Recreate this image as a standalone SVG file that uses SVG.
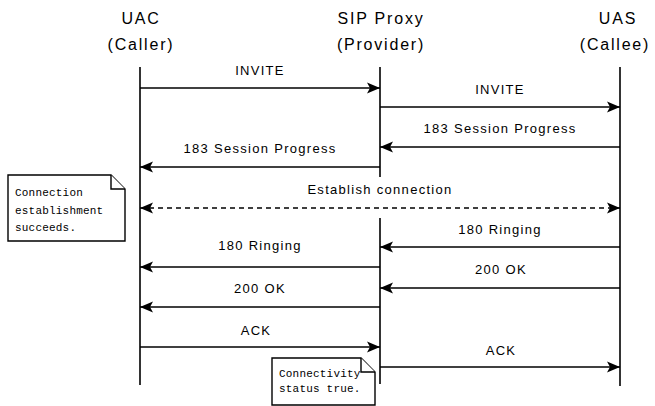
<svg xmlns="http://www.w3.org/2000/svg" width="655" height="406" viewBox="0 0 655 406">
  <style>
    .hdr { font-family: "Liberation Sans", Arial, sans-serif; font-size: 16px; letter-spacing: 1.8px; fill: #000; text-anchor: middle; }
    .lbl { font-family: "Liberation Sans", Arial, sans-serif; font-size: 13px; letter-spacing: 1.3px; fill: #000; text-anchor: middle; }
    .note-txt { font-family: "Liberation Mono", "Courier New", monospace; font-size: 11px; letter-spacing: 0.2px; fill: #000; }
    .life { stroke: #000; stroke-width: 1.6; fill: none; }
    .msg { stroke: #000; stroke-width: 1.6; fill: none; marker-end: url(#arrow); }
    .dash { stroke-dasharray: 5 4; marker-start: url(#arrow); }
    .note { fill: #fff; stroke: #000; stroke-width: 1.4; }
  </style>
  <defs>
    <marker id="arrow" markerUnits="userSpaceOnUse" viewBox="-14 -7 15 14" refX="0" refY="0" markerWidth="15" markerHeight="14" orient="auto-start-reverse">
      <path d="M0,0 L-13,-5.5 L-10,0 L-13,5.5 Z" fill="#000"/>
    </marker>
  </defs>
  <rect width="655" height="406" fill="#fff"/>

  <!-- participants -->
  <g id="uac">
    <text class="hdr" x="141" y="24">UAC</text>
    <text class="hdr" x="141" y="50">(Caller)</text>
    <line class="life" x1="140" y1="67" x2="140" y2="385"/>
  </g>
  <g id="proxy">
    <text class="hdr" x="381" y="24">SIP Proxy</text>
    <text class="hdr" x="381" y="50">(Provider)</text>
    <line class="life" x1="380" y1="67" x2="380" y2="177"/>
    <line class="life" x1="380" y1="218" x2="380" y2="384"/>
  </g>
  <g id="uas">
    <text class="hdr" x="618" y="24">UAS</text>
    <text class="hdr" x="615" y="50">(Callee)</text>
    <line class="life" x1="620" y1="67" x2="620" y2="386"/>
  </g>

  <!-- messages -->
  <g id="connectors">
    <line class="msg" x1="140" y1="88" x2="380" y2="88"/>
    <line class="msg" x1="380" y1="107" x2="620" y2="107"/>
    <line class="msg" x1="620" y1="147" x2="380" y2="147"/>
    <line class="msg" x1="380" y1="167" x2="140" y2="167"/>
    <line class="msg dash" x1="140" y1="208" x2="620" y2="208"/>
    <line class="msg" x1="620" y1="247" x2="380" y2="247"/>
    <line class="msg" x1="380" y1="267" x2="140" y2="267"/>
    <line class="msg" x1="620" y1="288" x2="380" y2="288"/>
    <line class="msg" x1="380" y1="307" x2="140" y2="307"/>
    <line class="msg" x1="140" y1="347" x2="380" y2="347"/>
    <line class="msg" x1="380" y1="367" x2="620" y2="367"/>
  </g>

  <g id="labels">
    <text class="lbl" x="260" y="75">INVITE</text>
    <text class="lbl" x="500" y="94">INVITE</text>
    <text class="lbl" x="500" y="133">183 Session Progress</text>
    <text class="lbl" x="260" y="153">183 Session Progress</text>
    <text class="lbl" x="380" y="194">Establish connection</text>
    <text class="lbl" x="500" y="234">180 Ringing</text>
    <text class="lbl" x="260" y="250">180 Ringing</text>
    <text class="lbl" x="501" y="274">200 OK</text>
    <text class="lbl" x="260" y="293">200 OK</text>
    <text class="lbl" x="256" y="335">ACK</text>
    <text class="lbl" x="501" y="355">ACK</text>
  </g>

  <!-- notes -->
  <g id="note-connection">
    <path class="note" d="M8,175 H111 L125,189 V241 H8 Z"/>
    <path class="note" d="M111,175 V189 H125" fill="none"/>
    <text class="note-txt" x="15" y="196">Connection</text>
    <text class="note-txt" x="15" y="214">establishment</text>
    <text class="note-txt" x="15" y="231">succeeds.</text>
  </g>
  <g id="note-status">
    <path class="note" d="M272,358 H361 L375,372 V405 H272 Z"/>
    <path class="note" d="M361,358 V372 H375" fill="none"/>
    <text class="note-txt" x="279" y="377">Connectivity</text>
    <text class="note-txt" x="279" y="392">status true.</text>
  </g>
</svg>
